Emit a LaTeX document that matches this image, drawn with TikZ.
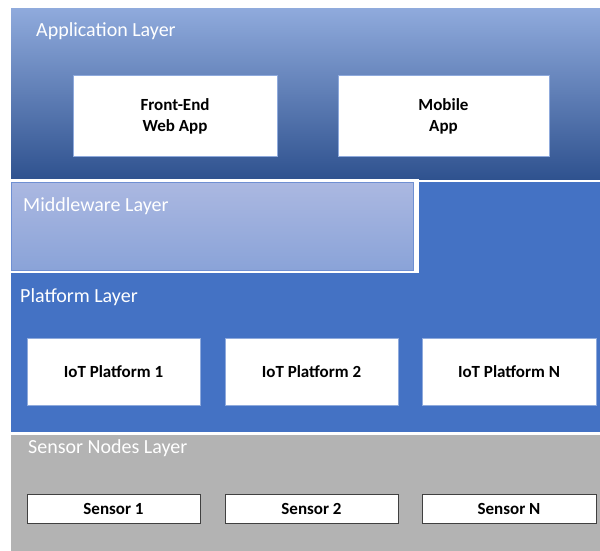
\documentclass[tikz,border=0pt]{standalone}
\usepackage{fontspec}
\setmainfont{Carlito}
\definecolor{apptop}{HTML}{8FAADC}
\definecolor{appmid}{HTML}{4A76C6}
\definecolor{appbot}{HTML}{2F528F}
\definecolor{midtop}{HTML}{ABB8E1}
\definecolor{midbot}{HTML}{8AA3D8}
\definecolor{midline}{HTML}{6F8FD2}
\definecolor{platblue}{HTML}{4472C4}
\definecolor{sensgray}{HTML}{B3B3B3}
\definecolor{boxline}{HTML}{8FAADC}
\newcommand\layerfont{\fontsize{20}{24}\selectfont}
\newcommand\boxfont{\fontsize{17}{21}\selectfont\bfseries}
\begin{document}
\begin{tikzpicture}[x=1pt, y=-1pt,
  layer/.style={rectangle, anchor=north west, inner sep=0pt, outer sep=0pt},
  title/.style={anchor=base west, inner sep=0pt, text=white, font=\layerfont},
  appbox/.style={rectangle, fill=white, draw=boxline, line width=0.6pt, align=center, font=\boxfont, inner sep=0pt},
  sensbox/.style={rectangle, fill=white, draw=black!75, line width=0.9pt, font=\boxfont, inner sep=0pt, minimum width=173pt, minimum height=29pt}]
\useasboundingbox (0,0) rectangle (600,551);
\fill[white] (0,0) rectangle (600,551);
\node[layer, minimum width=589pt, minimum height=170pt, top color=apptop, middle color=appmid, bottom color=appbot] (applayer) at (11,9) {};
\node[title] (applabel) at (36,37) {Application Layer};
\node[appbox, text depth=0pt, minimum width=204pt, minimum height=81pt] (webapp) at (175,115.5) {Front-End\\Web App};
\node[appbox, text depth=0pt, minimum width=211pt, minimum height=81pt] (mobapp) at (443.5,115.5) {Mobile\\App};
\node[layer, minimum width=589pt, minimum height=250pt, fill=platblue] (platlayer) at (11,182) {};
\fill[white] (11,179) rectangle (419,273);
\node[layer, minimum width=402pt, minimum height=88pt, top color=midtop, bottom color=midbot, draw=midline, line width=0.8pt] (midlayer) at (11,182) {};
\node[title] (midlabel) at (23,211) {Middleware Layer};
\node[title] (platlabel) at (20,302) {Platform Layer};
\node[appbox, minimum width=173pt, minimum height=67pt] (plat1) at (113.5,371.5) {IoT Platform 1};
\node[appbox, minimum width=173pt, minimum height=67pt] (plat2) at (311.5,371.5) {IoT Platform 2};
\node[appbox, minimum width=174pt, minimum height=67pt] (platn) at (509,371.5) {IoT Platform N};
\node[layer, minimum width=589pt, minimum height=116pt, fill=sensgray] (senslayer) at (11,435) {};
\node[title] (senslabel) at (28,453) {Sensor Nodes Layer};
\node[sensbox] (sens1) at (113.5,508.5) {Sensor 1};
\node[sensbox] (sens2) at (311.5,508.5) {Sensor 2};
\node[sensbox, minimum width=174pt] (sensn) at (509,508.5) {Sensor N};
\end{tikzpicture}
\end{document}
